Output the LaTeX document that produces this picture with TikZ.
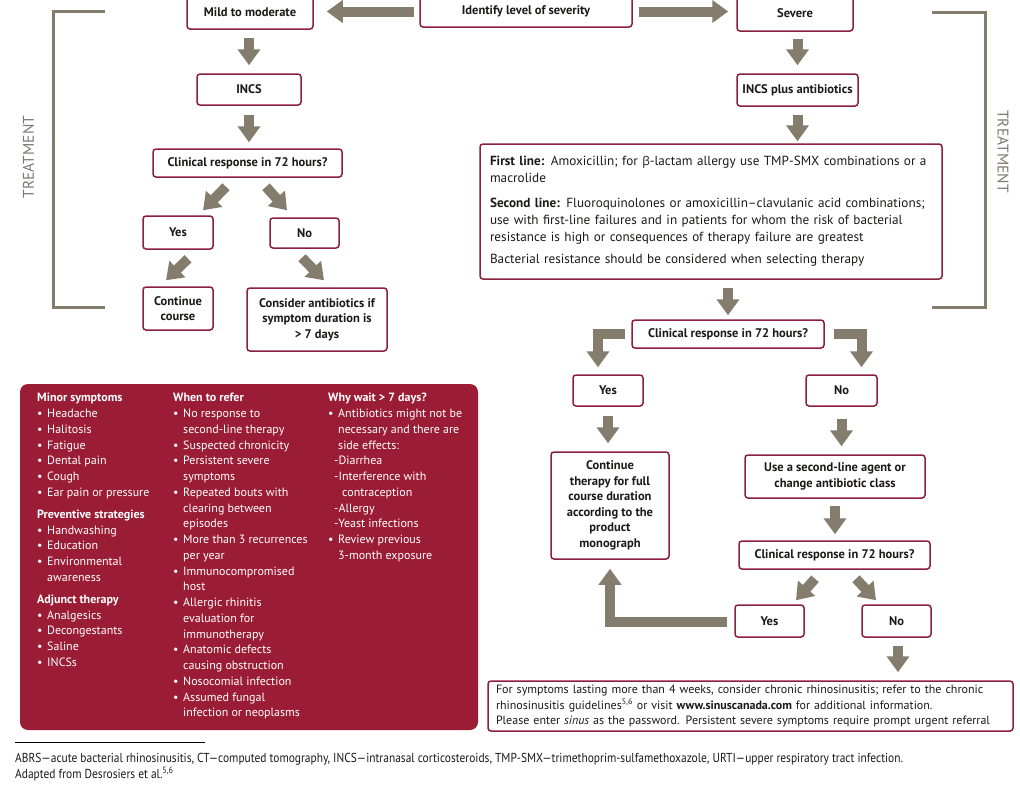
\documentclass[tikz,border=0pt]{standalone}
\usepackage{fontspec}
\setmainfont{PT Sans}
\newfontfamily\notef[FakeStretch=0.88]{PT Sans}
\newfontfamily\greekf{Open Sans}
\usetikzlibrary{arrows.meta,calc}
\definecolor{boxred}{RGB}{140,32,60}
\definecolor{panelred}{RGB}{155,29,53}
\definecolor{arrowgray}{RGB}{132,124,109}
\definecolor{sidegray}{RGB}{128,120,110}
\definecolor{txt}{RGB}{30,25,25}
\newcommand{\bl}{\makebox[10pt][l]{\textbullet}}
\newcommand{\ct}{\hspace*{10pt}}
\newcommand{\dl}{\hspace*{6pt}}
\newcommand{\dc}{\hspace*{14pt}}
\tikzset{
  fbox/.style={draw=boxred, line width=1.5pt, rounded corners=3pt, fill=white, align=center,
    inner sep=0pt, text=txt, font=\bfseries\fontsize{12.5}{15.5}\selectfont},
  bigarrow/.style={draw=arrowgray, line width=10pt, line cap=butt, line join=miter,
    -{Triangle[length=16pt,width=22pt]}},
  bracketline/.style={draw=arrowgray, line width=3pt, line join=miter},
  sidelabel/.style={text=sidegray, inner sep=0pt, font=\fontsize{15.5}{15.5}\selectfont},
  paneltext/.style={text=white, align=left, inner sep=0pt, anchor=north west,
    font=\fontsize{12}{15.75}\selectfont},
}
\begin{document}
\begin{tikzpicture}[x=1pt,y=-1pt]
\useasboundingbox (0,0) rectangle (1020,785);
\fill[white] (0,0) rectangle (1020,785);

% brackets and side labels
\draw[bracketline] (105,11) -- (53,11) -- (53,307) -- (105,307);
\draw[bracketline] (932,12) -- (985,12) -- (985,307) -- (932,307);
\node[sidelabel, rotate=90] (tl) at (28.5,157) {TREATMENT};
\node[sidelabel, rotate=-90] (tr) at (1003,151.5) {TREATMENT};

% top row
\node[fbox, minimum width=126pt, minimum height=33pt] (mild) at (250,12.5) {Mild to moderate};
\node[fbox, minimum width=212pt, minimum height=31pt] (ident) at (526,11.5) {Identify level of severity};
\node[fbox, minimum width=116pt, minimum height=35pt] (severe) at (795,13.5) {Severe};

% left flow
\node[fbox, minimum width=104pt, minimum height=31pt] (incs) at (249,89.5) {INCS};
\node[fbox, minimum width=189pt, minimum height=28pt] (cr1) at (247.5,163) {Clinical response in 72 hours?};
\node[fbox, minimum width=70pt, minimum height=33pt] (yes1) at (178,232.5) {Yes};
\node[fbox, minimum width=69pt, minimum height=30pt] (no1) at (304.5,233) {No};
\node[fbox, minimum width=70pt, minimum height=43pt] (cont1) at (178,308.5) {Continue\\course};
\node[fbox, minimum width=140pt, minimum height=63pt] (consider) at (317,319.5) {Consider antibiotics if\\symptom duration is\\> 7 days};

% right flow
\node[fbox, minimum width=121pt, minimum height=32pt] (incsab) at (797.5,90) {INCS plus antibiotics};
\node[fbox, minimum width=462pt, minimum height=135pt, text width=442pt, align=left,
  font=\fontsize{13.2}{17}\selectfont] (first) at (711,211.5)
  {\textbf{First line:} Amoxicillin; for {\greekf\fontsize{12}{17}\selectfont β}-lactam allergy use TMP-SMX combinations or a\\
   macrolide\\[8pt]
   \textbf{Second line:} Fluoroquinolones or amoxicillin–clavulanic acid combinations;\\
   use with first-line failures and in patients for whom the risk of bacterial\\
   resistance is high or consequences of therapy failure are greatest\\[5pt]
   Bacterial resistance should be considered when selecting therapy};
\node[fbox, minimum width=192pt, minimum height=28pt] (cr2) at (728,334) {Clinical response in 72 hours?};
\node[fbox, minimum width=70pt, minimum height=31pt] (yes2) at (608,390.5) {Yes};
\node[fbox, minimum width=71pt, minimum height=31pt] (no2) at (841.5,390.5) {No};
\node[fbox, minimum width=118pt, minimum height=107pt] (cont2) at (610,505.5) {Continue\\therapy for full\\course duration\\according to the\\product\\monograph};
\node[fbox, minimum width=180pt, minimum height=43pt] (use) at (835,476.5) {Use a second-line agent or\\change antibiotic class};
\node[fbox, minimum width=191pt, minimum height=28pt] (cr3) at (834.5,555) {Clinical response in 72 hours?};
\node[fbox, minimum width=69pt, minimum height=32pt] (yes3) at (769.5,621) {Yes};
\node[fbox, minimum width=69pt, minimum height=32pt] (no3) at (896.5,621) {No};
\node[fbox, minimum width=525pt, minimum height=50pt, text width=509pt, align=left,
  font=\fontsize{12}{15.5}\selectfont] (foot) at (750.5,706)
  {For symptoms lasting more than 4 weeks, consider chronic rhinosinusitis; refer to the chronic\\
   rhinosinusitis guidelines\textsuperscript{5,6} or visit \textbf{www.sinuscanada.com} for additional information.\\
   Please enter \textit{sinus} as the password. Persistent severe symptoms require prompt urgent referral};

% arrows
\draw[bigarrow, shorten <=5pt, shorten >=13pt] (ident.west) -- (ident.west -| mild.east);
\draw[bigarrow, shorten <=6pt, shorten >=8pt] (ident.east) -- (ident.east -| severe.west);
\draw[bigarrow, shorten <=8pt, shorten >=8pt] (incs.north |- mild.south) -- (incs.north);
\draw[bigarrow, shorten <=9pt, shorten >=6pt] (incs.south) -- (incs.south |- cr1.north);
\draw[bigarrow] ($(cr1.south)+(-21.5,9)$) -- ($(yes1.north)+(25,-5)$);
\draw[bigarrow] ($(cr1.south)+(18.5,9)$) -- ($(no1.north)+(-17.5,-7)$);
\draw[bigarrow] ($(yes1.south)+(10,9)$) -- ($(cont1.north)+(-12,-6)$);
\draw[bigarrow] ($(no1.south)+(-2.5,9)$) -- ($(consider.north)+(7,-7)$);

\draw[bigarrow, shorten <=7pt, shorten >=8pt] (incsab.north |- severe.south) -- (incsab.north);
\draw[bigarrow, shorten <=8pt, shorten >=2pt] (incsab.south) -- (incsab.south |- first.north);
\draw[bigarrow, shorten <=8pt, shorten >=4pt] (cr2.north |- first.south) -- (cr2.north);
\draw[bigarrow] ($(cr2.west)+(-6,0)$) -| ($(yes2.north)+(-10,-7)$);
\draw[bigarrow] ($(cr2.east)+(9,0)$) -| ($(no2.north)+(20,-7)$);
\draw[bigarrow, shorten <=9pt, shorten >=8pt] (yes2.south) -- (yes2.south |- cont2.north);
\draw[bigarrow, shorten <=12pt, shorten >=8pt] (no2.south) -- (no2.south |- use.north);
\draw[bigarrow, shorten <=7pt, shorten >=6pt] (use.south) -- (use.south |- cr3.north);
\draw[bigarrow] ($(cr3.south)+(-19.5,9)$) -- ($(yes3.north)+(26.5,-4)$);
\draw[bigarrow] ($(cr3.south)+(21.5,9)$) -- ($(no3.north)+(-20.5,-4)$);
\draw[bigarrow] ($(yes3.west)+(-7,1)$) -| ($(cont2.south)+(0,9)$);
\draw[bigarrow, shorten <=8pt, shorten >=8pt] ($(no3.south)+(1.5,0)$) -- ($(no3.south |- foot.north)+(1.5,0)$);

% info panel
\node[fill=panelred, rounded corners=8pt, minimum width=458pt, minimum height=346pt, inner sep=0pt] (panel) at (249,557) {};
\node[paneltext] (col1) at (37,393) {\rule{0pt}{8.7pt}\textbf{Minor symptoms}\\
 \bl Headache\\ \bl Halitosis\\ \bl Fatigue\\ \bl Dental pain\\ \bl Cough\\ \bl Ear pain or pressure\\[6.25pt]
 \textbf{Preventive strategies}\\
 \bl Handwashing\\ \bl Education\\ \bl Environmental\\ \ct awareness\\[6.25pt]
 \textbf{Adjunct therapy}\\
 \bl Analgesics\\ \bl Decongestants\\ \bl Saline\\ \bl INCSs};
\node[paneltext] (col2) at (173,393) {\rule{0pt}{8.7pt}\textbf{When to refer}\\
 \bl No response to\\ \ct second-line therapy\\ \bl Suspected chronicity\\ \bl Persistent severe\\ \ct symptoms\\
 \bl Repeated bouts with\\ \ct clearing between\\ \ct episodes\\ \bl More than 3 recurrences\\ \ct per year\\
 \bl Immunocompromised\\ \ct host\\ \bl Allergic rhinitis\\ \ct evaluation for\\ \ct immunotherapy\\
 \bl Anatomic defects\\ \ct causing obstruction\\ \bl Nosocomial infection\\ \bl Assumed fungal\\ \ct infection or neoplasms};
\node[paneltext] (col3) at (328,393) {\rule{0pt}{8.7pt}\textbf{Why wait > 7 days?}\\
 \bl Antibiotics might not be\\ \ct necessary and there are\\ \ct side effects:\\
 \dl -Diarrhea\\ \dl -Interference with\\ \dc contraception\\ \dl -Allergy\\ \dl -Yeast infections\\
 \bl Review previous\\ \ct 3-month exposure};

% footnote
\draw[line width=0.6pt] (15,742) -- (205,742);
\node[anchor=base west, inner sep=0pt, font=\notef\fontsize{13}{14}\selectfont, text=txt] (abbr) at (15,762)
  {ABRS—acute bacterial rhinosinusitis, CT—computed tomography, INCS—intranasal corticosteroids, TMP-SMX—trimethoprim-sulfamethoxazole, URTI—upper respiratory tract infection.};
\node[anchor=base west, inner sep=0pt, font=\notef\fontsize{13}{14}\selectfont, text=txt] (adapt) at (15,778)
  {Adapted from Desrosiers et al.\textsuperscript{5,6}};
\end{tikzpicture}
\end{document}
